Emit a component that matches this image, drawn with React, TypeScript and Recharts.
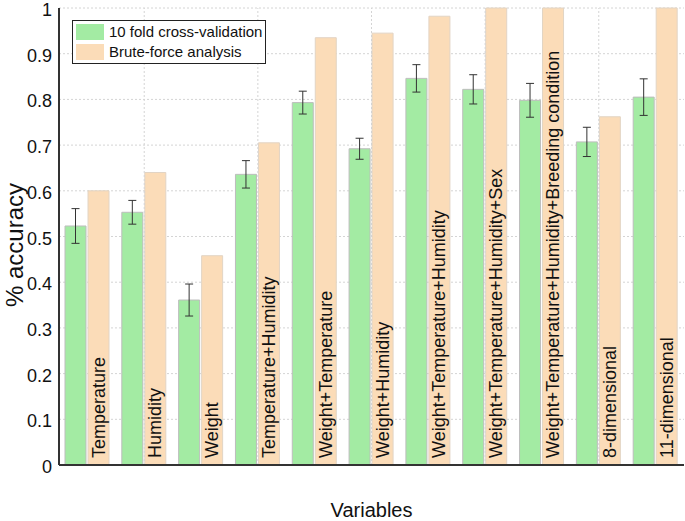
import { BarChart, Bar, XAxis, YAxis, CartesianGrid, ErrorBar, LabelList, ReferenceLine, Label } from 'recharts';

const categories = [
  'Temperature',
  'Humidity',
  'Weight',
  'Temperature+Humidity',
  'Weight+Temperature',
  'Weight+Humidity',
  'Weight+Temperature+Humidity',
  'Weight+Temperature+Humidity+Sex',
  'Weight+Temperature+Humidity+Breeding condition',
  '8-dimensional',
  '11-dimensional',
];
const cvValues = [0.523, 0.553, 0.361, 0.636, 0.793, 0.692, 0.846, 0.822, 0.798, 0.707, 0.805];
const cvErrors = [0.038, 0.026, 0.035, 0.03, 0.025, 0.023, 0.03, 0.032, 0.037, 0.032, 0.04];
const bruteValues = [0.6, 0.64, 0.458, 0.705, 0.935, 0.945, 0.982, 1.0, 1.0, 0.762, 1.0];
const yTicks = [0, 0.1, 0.2, 0.3, 0.4, 0.5, 0.6, 0.7, 0.8, 0.9, 1];
const gridCategories = [categories[1], categories[3], categories[5], categories[7], categories[9]];

const data = categories.map((name, i) => ({
  name,
  cv: cvValues[i],
  cvErr: cvErrors[i],
  brute: bruteValues[i],
}));

const FONT = '"Liberation Sans", Arial, sans-serif';
const GREEN = '#a3eba3';
const BEIGE = '#fbdcb8';

const BarText = (props: any) => {
  const { x, y, width, height, value } = props;
  const cx = x + width / 2;
  const by = y + height - 7;
  return (
    <text
      x={cx}
      y={by}
      transform={`rotate(-90, ${cx}, ${by})`}
      textAnchor="start"
      dominantBaseline="central"
      fontSize={18}
      fontFamily={FONT}
      fill="#111"
    >
      {value}
    </text>
  );
};

const YTick = (props: any) => {
  const { x, y, payload } = props;
  return (
    <text
      x={x}
      y={y + 2}
      textAnchor="end"
      dominantBaseline="central"
      fontSize={18}
      fontFamily={FONT}
      fill="#111"
    >
      {payload.value}
    </text>
  );
};

const YLabel = () => {
  const x = 14;
  const y = 245;
  return (
    <text
      x={x}
      y={y}
      transform={`rotate(-90, ${x}, ${y})`}
      textAnchor="middle"
      dominantBaseline="central"
      fontSize={24}
      fontFamily={FONT}
      fill="#111"
    >
      % accuracy
    </text>
  );
};

const LegendBox = () => (
  <div
    style={{
      position: 'absolute',
      left: 72,
      top: 20,
      border: '1.5px solid #222',
      background: '#fff',
      padding: '1px 3px 1px 3px',
      fontFamily: FONT,
      fontSize: 15,
      color: '#111',
      lineHeight: '20px',
    }}
  >
    <div style={{ display: 'flex', alignItems: 'center' }}>
      <span style={{ display: 'inline-block', width: 28, height: 16, background: GREEN, marginRight: 5 }} />
      10 fold cross-validation
    </div>
    <div style={{ display: 'flex', alignItems: 'center' }}>
      <span style={{ display: 'inline-block', width: 28, height: 16, background: BEIGE, marginRight: 5 }} />
      Brute-force analysis
    </div>
  </div>
);

export default function App() {
  return (
    <div style={{ position: 'absolute', left: 0, top: 0, width: 685, height: 521, background: '#fff' }}>
      <BarChart
        width={685}
        height={521}
        data={data}
        margin={{ top: 8, right: 1, left: 0, bottom: 0 }}
        barSize={21}
        barGap={2}
      >
        <CartesianGrid vertical={false} stroke="#d4d4d4" strokeDasharray="2 2" />
        {gridCategories.map((c) => (
          <ReferenceLine key={c} x={c} stroke="#d4d4d4" strokeDasharray="2 2" />
        ))}
        <XAxis
          dataKey="name"
          height={56}
          tick={false}
          tickLine={false}
          axisLine={{ stroke: '#333', strokeWidth: 2 }}
        >
          <Label
            value="Variables"
            position="insideBottom"
            offset={4}
            style={{ fontFamily: FONT, fontSize: 20, fill: '#111' }}
          />
        </XAxis>
        <YAxis
          width={59}
          domain={[0, 1]}
          ticks={yTicks}
          interval={0}
          tickLine={false}
          tickSize={0}
          tickMargin={7}
          axisLine={{ stroke: '#333', strokeWidth: 2 }}
          tick={<YTick />}
        >
          <Label content={<YLabel />} />
        </YAxis>
        <Bar dataKey="cv" fill={GREEN} stroke="#bdbdbd" strokeWidth={1} isAnimationActive={false}>
          <ErrorBar dataKey="cvErr" width={4} stroke="#333" strokeWidth={1} direction="y" />
        </Bar>
        <Bar dataKey="brute" fill={BEIGE} stroke="#e2d4c4" strokeWidth={1} isAnimationActive={false}>
          <LabelList dataKey="name" content={<BarText />} />
        </Bar>
      </BarChart>
      <LegendBox />
    </div>
  );
}
